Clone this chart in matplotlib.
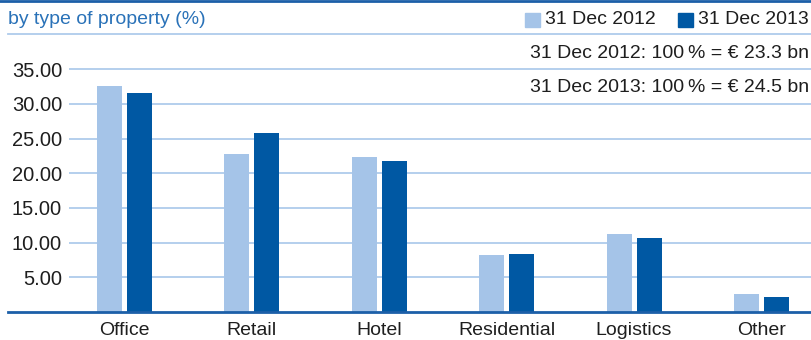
import numpy as np
import matplotlib.pyplot as plt
from matplotlib.lines import Line2D

plt.rcParams['font.family'] = ['Liberation Sans', 'DejaVu Sans']

# share of portfolio by type of property (%)
categories = ["Office", "Retail", "Hotel", "Residential", "Logistics", "Other"]
share_2012 = [32.6, 22.8, 22.3, 8.2, 11.2, 2.6]
share_2013 = [31.6, 25.8, 21.7, 8.3, 10.6, 2.1]
series_labels = ["31 Dec 2012", "31 Dec 2013"]
notes = ["31 Dec 2012: 100\u2009% = \u20ac 23.3 bn",
         "31 Dec 2013: 100\u2009% = \u20ac 24.5 bn"]
yticks = [5, 10, 15, 20, 25, 30, 35]

LIGHT = '#a5c4e8'
DARK = '#0058a3'
GRID = '#afcbec'
LINE = '#1c5fa8'
TEXT = '#1e1e1e'
FS = 14

W, H = 811, 340
fig = plt.figure(figsize=(W / 100, H / 100), dpi=100)

# axes box in pixels: x 69..811, y 34..312 (from top)
ax = fig.add_axes([69 / W, (H - 312) / H, (811 - 69) / W, (312 - 34) / H])

x = np.arange(len(categories))
bw = 0.196
off = 0.118
ax.bar(x - off, share_2012, bw, color=LIGHT, zorder=3)
ax.bar(x + off, share_2013, bw, color=DARK, zorder=3)

ax.set_xlim(-0.4356, 5.389)
ax.set_ylim(0, 40.06)

for t in yticks:
    ax.axhline(t, color=GRID, lw=1.3, zorder=1)
# baseline runs further left than the grid
ax.axhline(0, xmin=(8 - 69) / (811 - 69), xmax=1, color=LINE, lw=2,
           clip_on=False, zorder=4)

ax.set_yticks(yticks)
ax.set_yticklabels(["%.2f" % t for t in yticks])
ax.set_xticks(x)
ax.set_xticklabels(categories)
ax.tick_params(axis='y', length=0, pad=5, labelsize=14.5, labelcolor=TEXT)
ax.tick_params(axis='x', length=0, pad=7, labelsize=FS, labelcolor=TEXT)
for s in ax.spines.values():
    s.set_visible(False)

# header rules
fig.add_artist(Line2D([0, 1], [1 - 1 / H, 1 - 1 / H], color=LINE, lw=2))
fig.add_artist(Line2D([8 / W, 1], [1 - 34 / H, 1 - 34 / H], color=GRID, lw=1.3))

fig.text(8 / W, 1 - 20 / H, "by type of property (%)", color='#2a72b8',
         fontsize=FS, ha='left', va='center')

# legend
for px, col, lab in [(525, LIGHT, series_labels[0]), (678, DARK, series_labels[1])]:
    fig.patches.append(plt.Rectangle((px / W, 1 - 27 / H), 15 / W, 14 / H,
                                     color=col, transform=fig.transFigure,
                                     figure=fig))
    fig.text((px + 20) / W, 1 - 20 / H, lab, color=TEXT, fontsize=FS,
             ha='left', va='center')

for ypx, note in zip([53, 87], notes):
    fig.text(809 / W, 1 - ypx / H, note, color=TEXT, fontsize=FS,
             ha='right', va='center')

fig.savefig('out.png', dpi=100)
